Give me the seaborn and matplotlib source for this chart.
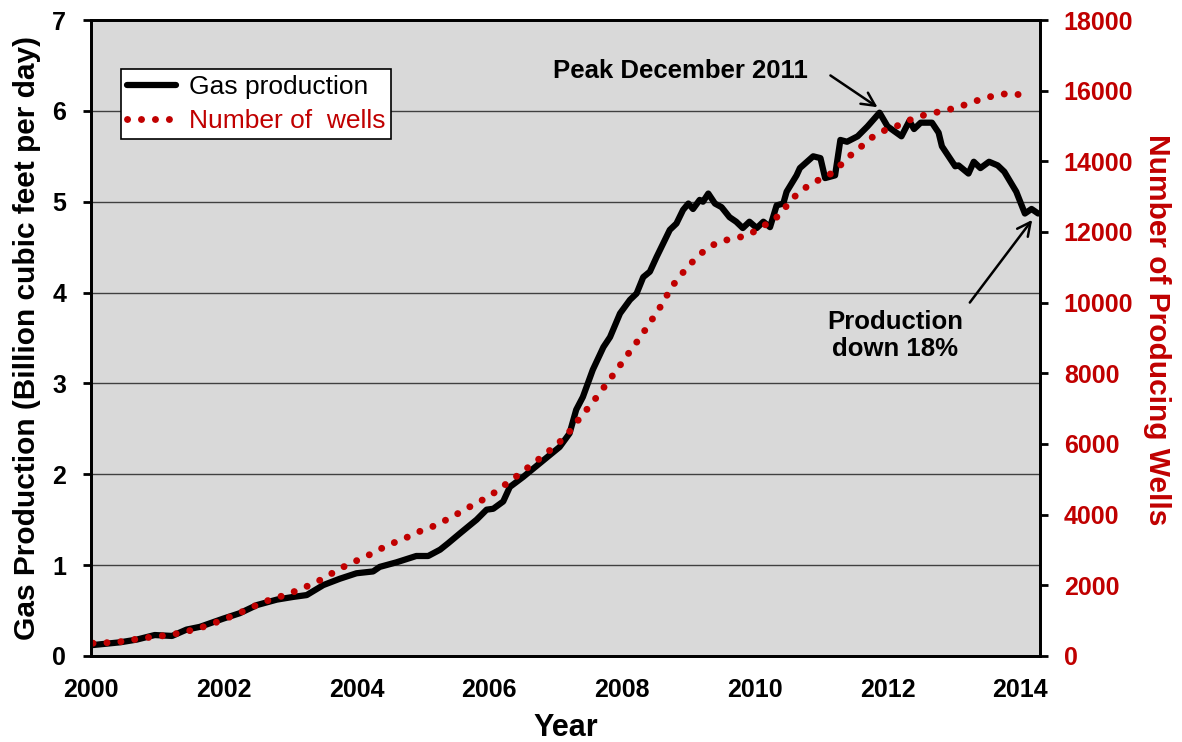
import numpy as np
import pandas as pd
import matplotlib
matplotlib.use('Agg')
import matplotlib.pyplot as plt
from matplotlib.lines import Line2D
import seaborn as sns

# gas production, billion cubic feet per day
gas_year = [2000.03, 2000.44, 2000.69, 2000.96, 2001.22, 2001.44, 2001.64, 2001.99,
            2002.24, 2002.50, 2002.80, 2003.05, 2003.25, 2003.50, 2003.75, 2004.00,
            2004.25, 2004.35, 2004.60, 2004.90, 2005.08, 2005.26, 2005.38, 2005.56,
            2005.81, 2005.96, 2006.06, 2006.21, 2006.31, 2006.51, 2006.76, 2007.06,
            2007.21, 2007.31, 2007.41, 2007.56, 2007.72, 2007.82, 2007.97, 2008.12,
            2008.22, 2008.32, 2008.42, 2008.52, 2008.72, 2008.82, 2008.92, 2009.00,
            2009.07, 2009.17, 2009.22, 2009.30, 2009.40, 2009.50, 2009.62, 2009.72,
            2009.82, 2009.92, 2010.03, 2010.13, 2010.23, 2010.33, 2010.43, 2010.48,
            2010.63, 2010.68, 2010.88, 2010.99, 2011.06, 2011.21, 2011.29, 2011.39,
            2011.55, 2011.70, 2011.88, 2012.00, 2012.21, 2012.33, 2012.40, 2012.50,
            2012.67, 2012.77, 2012.82, 2013.02, 2013.07, 2013.22, 2013.30, 2013.40,
            2013.53, 2013.66, 2013.76, 2013.94, 2014.07, 2014.17, 2014.27]
gas = [0.12, 0.15, 0.18, 0.23, 0.22, 0.29, 0.32, 0.41,
       0.47, 0.56, 0.62, 0.65, 0.67, 0.78, 0.85, 0.91,
       0.93, 0.98, 1.03, 1.10, 1.10, 1.17, 1.24, 1.35,
       1.50, 1.61, 1.62, 1.70, 1.86, 1.97, 2.12, 2.30,
       2.45, 2.71, 2.85, 3.15, 3.40, 3.51, 3.77, 3.92,
       3.99, 4.17, 4.23, 4.39, 4.69, 4.76, 4.91, 4.98,
       4.92, 5.02, 5.00, 5.09, 4.98, 4.94, 4.83, 4.78,
       4.71, 4.78, 4.71, 4.78, 4.72, 4.96, 4.98, 5.11,
       5.29, 5.37, 5.50, 5.48, 5.26, 5.29, 5.68, 5.66,
       5.72, 5.83, 5.98, 5.83, 5.72, 5.89, 5.80, 5.87,
       5.87, 5.76, 5.61, 5.39, 5.40, 5.31, 5.44, 5.37,
       5.44, 5.40, 5.33, 5.11, 4.87, 4.92, 4.87]

# number of producing wells
wells_year = [2000.03, 2000.24, 2000.45, 2000.67, 2000.89, 2001.10, 2001.32, 2001.53,
              2001.74, 2001.94, 2002.14, 2002.34, 2002.53, 2002.74, 2002.95, 2003.15,
              2003.35, 2003.54, 2003.72, 2003.92, 2004.12, 2004.31, 2004.50, 2004.70,
              2004.90, 2005.11, 2005.30, 2005.49, 2005.68, 2005.87, 2006.05, 2006.23,
              2006.40, 2006.58, 2006.75, 2006.92, 2007.08, 2007.23, 2007.36, 2007.50,
              2007.63, 2007.76, 2007.89, 2008.02, 2008.14, 2008.27, 2008.39, 2008.51,
              2008.63, 2008.73, 2008.86, 2009.00, 2009.15, 2009.31, 2009.51, 2009.72,
              2009.92, 2010.11, 2010.29, 2010.43, 2010.56, 2010.72, 2010.90, 2011.10,
              2011.27, 2011.42, 2011.59, 2011.75, 2011.95, 2012.16, 2012.36, 2012.56,
              2012.78, 2012.99, 2013.20, 2013.41, 2013.62, 2013.84, 2014.06]
wells = [360, 375, 405, 470, 530, 575, 640, 735,
         850, 990, 1140, 1300, 1470, 1620, 1735, 1890,
         2045, 2235, 2440, 2630, 2790, 2980, 3160, 3300,
         3490, 3630, 3800, 3990, 4195, 4385, 4585, 4835,
         5070, 5330, 5575, 5830, 6090, 6395, 6725, 7045,
         7355, 7685, 8015, 8355, 8675, 9005, 9345, 9685,
         10035, 10400, 10720, 11035, 11325, 11580, 11750, 11825,
         11930, 12155, 12335, 12620, 12935, 13200, 13420, 13580,
         13850, 14135, 14395, 14660, 14870, 15015, 15190, 15315,
         15405, 15495, 15620, 15760, 15865, 15930, 15865]

year_ticks = list(range(2000, 2015, 2))
left_ticks = list(range(0, 8))
right_ticks = list(range(0, 18001, 2000))

RED = '#c00000'

sns.set_style('white', rc={'text.color': 'black', 'axes.labelcolor': 'black',
                           'xtick.color': 'black', 'ytick.color': 'black'})
plt.rcParams['font.family'] = ['Liberation Sans', 'DejaVu Sans']

gas_df = pd.DataFrame({'year': gas_year, 'gas': gas})
wells_df = pd.DataFrame({'year': wells_year, 'wells': wells})

fig = plt.figure(figsize=(11.82, 7.42), dpi=100)
ax = fig.add_axes([0.077, 0.116, 0.803, 0.857])
ax.set_facecolor('#d9d9d9')
ax.set_axisbelow(True)
ax.grid(axis='y', color='#404040', lw=1)

sns.lineplot(data=gas_df, x='year', y='gas', ax=ax, color='black', lw=4.5,
             solid_joinstyle='round', solid_capstyle='round')

ax2 = ax.twinx()
sns.lineplot(data=wells_df, x='year', y='wells', ax=ax2, color=RED, lw=5,
             linestyle=(0, (0.01, 2.0)), dash_capstyle='round')

ax.set_xlim(2000, 2014.3)
ax.set_ylim(0, 7)
ax2.set_ylim(0, 18000)
ax.set_xticks(year_ticks)
ax.set_xticks(range(2001, 2015, 2), minor=True)
ax.set_yticks(left_ticks)
ax2.set_yticks(right_ticks)

for a in (ax, ax2):
    for s in a.spines.values():
        s.set_linewidth(2)
        s.set_color('black')
ax.tick_params(axis='x', which='both', direction='out', length=6, width=2,
               labelsize=18, pad=10)
ax.tick_params(axis='y', direction='out', length=6, width=2, labelsize=18, pad=12)
ax2.tick_params(axis='y', direction='out', length=6, width=2, labelsize=18,
                labelcolor=RED, pad=11)
for lab in ax.get_xticklabels() + ax.get_yticklabels() + ax2.get_yticklabels():
    lab.set_fontweight('bold')

ax.set_xlabel('Year', fontsize=22, fontweight='bold', labelpad=8)
ax.set_ylabel('Gas Production (Billion cubic feet per day)', fontsize=21.5,
              fontweight='bold', labelpad=8)
ax2.set_ylabel('Number of Producing Wells', fontsize=21.5, fontweight='bold',
               color=RED, rotation=270, labelpad=27)
ax2.yaxis.label.set_y(0.513)

handles = [Line2D([], [], color='black', lw=4.5, solid_capstyle='round'),
           Line2D([], [], color=RED, lw=5, linestyle=(0, (0.01, 2.0)),
                  dash_capstyle='round')]
leg = ax.legend(handles, ['Gas production', 'Number of  wells'],
                loc='upper left', bbox_to_anchor=(0.0316, 0.923), fontsize=19,
                frameon=True, fancybox=False, edgecolor='black', framealpha=1,
                facecolor='white', handlelength=1.85, borderpad=0.22,
                labelspacing=0.4, handletextpad=0.5, borderaxespad=0)
leg.get_frame().set_linewidth(1.2)
leg.get_texts()[1].set_color(RED)

ax.text(2006.96, 6.44, 'Peak December 2011', fontsize=18.5, fontweight='bold',
        va='center', ha='left')
ax.text(2012.12, 3.53, 'Production\ndown 18%', fontsize=18.5, fontweight='bold',
        va='center', ha='center', linespacing=1.15)
arrow = dict(arrowstyle='->', color='black', lw=1.8, mutation_scale=24,
             shrinkA=0, shrinkB=0)
ax.annotate('', xy=(2011.85, 6.04), xytext=(2011.14, 6.39), arrowprops=arrow)
ax.annotate('', xy=(2014.18, 4.80), xytext=(2013.24, 3.89), arrowprops=arrow)

fig.savefig('out.png', dpi=100)
